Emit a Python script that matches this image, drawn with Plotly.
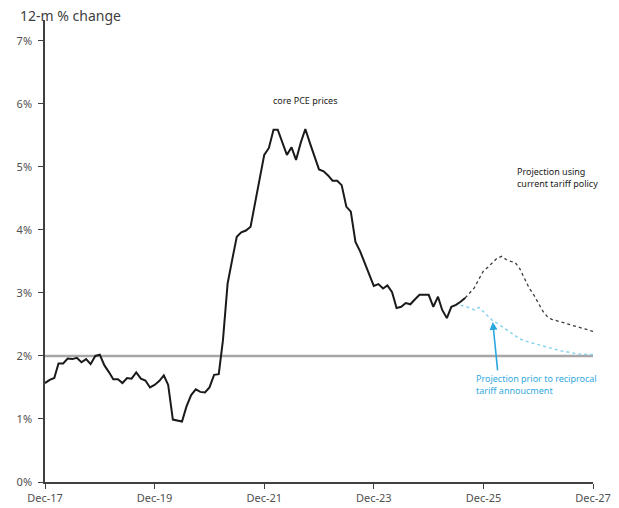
import pandas as pd
import plotly.graph_objects as go

# ---- data ----
start_month = "2017-12-01"
core_pce = [1.57, 1.62, 1.65, 1.88, 1.88, 1.96, 1.95, 1.97, 1.90, 1.95, 1.87, 2.00,
            2.02, 1.85, 1.74, 1.63, 1.63, 1.57, 1.65, 1.64, 1.74, 1.64, 1.61, 1.50,
            1.54, 1.60, 1.69, 1.54, 0.99, 0.98, 0.96, 1.20, 1.38, 1.47, 1.43, 1.42,
            1.50, 1.70, 1.71, 2.25, 3.15, 3.52, 3.89, 3.96, 3.99, 4.05, 4.42, 4.85,
            5.19, 5.30, 5.59, 5.59, 5.38, 5.19, 5.31, 5.11, 5.38, 5.60, 5.38, 5.16,
            4.96, 4.93, 4.86, 4.78, 4.78, 4.71, 4.37, 4.29, 3.81, 3.66, 3.47, 3.29,
            3.11, 3.14, 3.07, 3.12, 3.01, 2.76, 2.78, 2.84, 2.82, 2.90, 2.97, 2.97,
            2.97, 2.78, 2.94, 2.73, 2.60, 2.78, 2.81, 2.86, 2.92]
proj_current_start = 92
proj_current = [2.92, 3.00, 3.08, 3.22, 3.35, 3.41, 3.48, 3.55, 3.58, 3.53, 3.50, 3.48,
                3.38, 3.22, 3.08, 2.97, 2.84, 2.71, 2.62, 2.58, 2.56, 2.54, 2.52, 2.50,
                2.48, 2.46, 2.44, 2.42, 2.39]
proj_prior_start = 91
proj_prior = [2.80, 2.79, 2.76, 2.73, 2.77, 2.70, 2.62, 2.56, 2.52, 2.47, 2.42, 2.37,
              2.32, 2.27, 2.24, 2.22, 2.20, 2.17, 2.15, 2.13, 2.11, 2.09, 2.08, 2.07,
              2.05, 2.04, 2.03, 2.03, 2.02, 2.02]
target = 2.0
tick_dates = ["2017-12-01", "2019-12-01", "2021-12-01", "2023-12-01", "2025-12-01", "2027-12-01"]
tick_labels = ["Dec-17", "Dec-19", "Dec-21", "Dec-23", "Dec-25", "Dec-27"]
y_ticks = [0, 1, 2, 3, 4, 5, 6, 7]
y_labels = ["0%", "1%", "2%", "3%", "4%", "5%", "6%", "7%"]

all_months = pd.date_range(start_month, periods=121, freq="MS")
x_hist = all_months[:len(core_pce)]
x_cur = all_months[proj_current_start:proj_current_start + len(proj_current)]
x_prior = all_months[proj_prior_start:proj_prior_start + len(proj_prior)]

FONT = "Noto Sans"
fig = go.Figure()

# 2% target line
fig.add_trace(go.Scatter(x=[all_months[0], all_months[-1]], y=[target, target], mode="lines",
                         line=dict(color="#a6a6a6", width=2.5), hoverinfo="skip"))
fig.add_trace(go.Scatter(x=x_prior, y=proj_prior, mode="lines",
                         line=dict(color="#86d2ee", width=1.4, dash="dot")))
fig.add_trace(go.Scatter(x=x_cur, y=proj_current, mode="lines",
                         line=dict(color="#3a3a3a", width=1.3, dash="dot")))
fig.add_trace(go.Scatter(x=x_hist, y=core_pce, mode="lines",
                         line=dict(color="#1a1a1a", width=2)))

fig.update_layout(
    width=619, height=508,
    margin=dict(l=45, r=26, t=20, b=26, autoexpand=False),
    paper_bgcolor="white", plot_bgcolor="white",
    showlegend=False,
    font=dict(family=FONT, color="#404040", size=11),
    xaxis=dict(type="date", range=[all_months[0], all_months[-1]],
               tickvals=tick_dates, ticktext=tick_labels, automargin=False,
               showgrid=False, zeroline=False, showline=True,
               linecolor="#404040", linewidth=1.5,
               ticks="outside", ticklen=5, tickcolor="#404040", tickwidth=1.2,
               tickfont=dict(size=11, color="#505050")),
    yaxis=dict(range=[0, 7.33], tickvals=y_ticks, ticktext=y_labels, automargin=False,
               showgrid=False, zeroline=False, showline=True,
               linecolor="#404040", linewidth=1.5, ticklabelstandoff=4,
               ticks="outside", ticklen=5, tickcolor="#404040", tickwidth=1.2,
               tickfont=dict(size=11, color="#505050")),
    annotations=[
        dict(text="12-m % change", xref="paper", yref="paper", x=-0.05, y=1.009,
             xanchor="left", yanchor="middle", showarrow=False,
             font=dict(size=14, color="#404040", family=FONT)),
        dict(text="core PCE prices", x=all_months[57], y=6.06, xanchor="center",
             yanchor="middle", showarrow=False,
             font=dict(size=9, color="#1a1a1a", family=FONT)),
        dict(text="Projection using<br>current tariff policy", x=all_months[103], y=4.83,
             xanchor="left", yanchor="middle", align="left", showarrow=False,
             font=dict(size=9, color="#1a1a1a", family=FONT)),
        dict(text="Projection prior to reciprocal<br>tariff annoucment", x=all_months[94], y=1.54,
             xanchor="left", yanchor="middle", align="left", showarrow=False,
             font=dict(size=9, color="#33aadd", family=FONT)),
        dict(text="", x=all_months[98], y=2.54, ax=5, ay=50, showarrow=True,
             arrowhead=2, arrowsize=1, arrowwidth=1.6, arrowcolor="#2aa7df"),
    ],
)

fig.write_html("out.html")
